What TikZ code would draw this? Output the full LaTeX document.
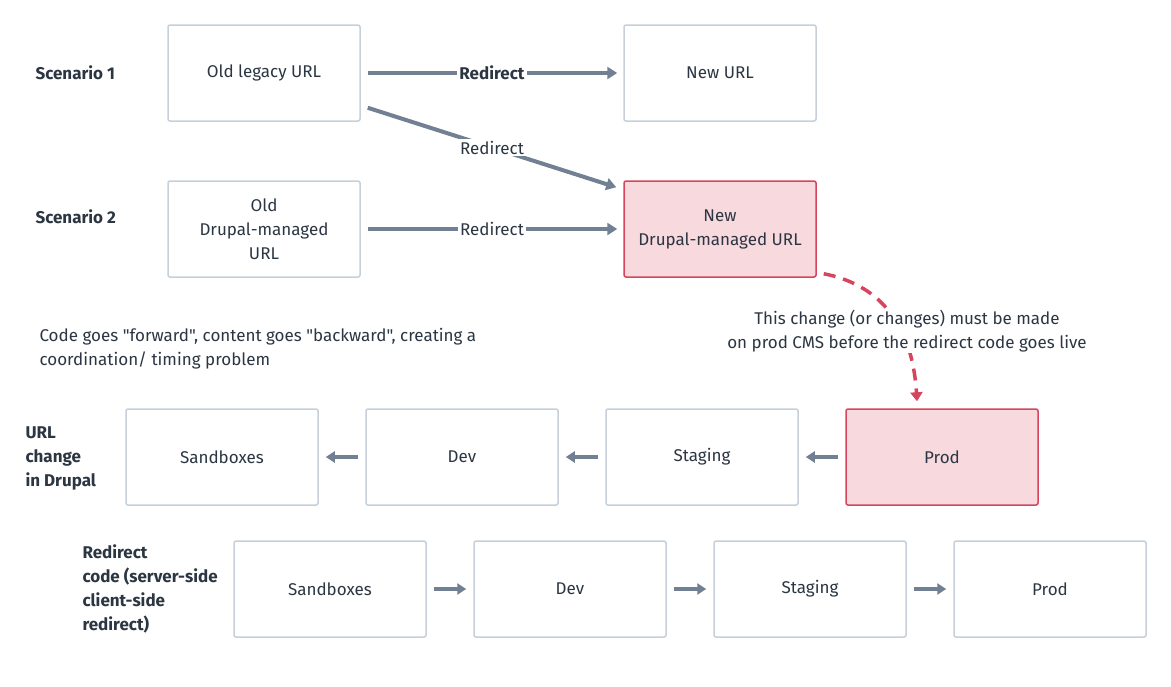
\documentclass[tikz,border=0pt]{standalone}
\usepackage{fontspec}
\setmainfont{Fira Sans}[Ligatures=TeXOff]
\usetikzlibrary{arrows.meta,calc}
\definecolor{txt}{HTML}{2B3642}
\definecolor{boxline}{HTML}{C5D0DA}
\definecolor{arrowc}{HTML}{718093}
\definecolor{hotline}{HTML}{D6455D}
\definecolor{hotfill}{HTML}{F7D9DE}
\begin{document}
\begin{tikzpicture}[x=1pt,y=-1pt,
  every node/.style={text=txt, font=\fontsize{17}{24}\selectfont},
  box/.style={draw=boxline, line width=1.5pt, rounded corners=2pt, fill=white,
    minimum width=192pt, minimum height=96pt, inner sep=0pt, align=center},
  hot/.style={box, draw=hotline, fill=hotfill},
  conn/.style={draw=arrowc, line width=4pt, -{Triangle[length=10pt,width=12pt]}},
  small/.style={draw=arrowc, line width=4pt, -{Triangle[length=9pt,width=11pt]}, shorten <=7pt, shorten >=7pt},
  lab/.style={fill=white, inner sep=2pt},
  side/.style={font=\fontsize{17}{24}\selectfont\bfseries, align=left, anchor=west},
  dashline/.style={draw=hotline, line width=3.5pt, dash pattern=on 12pt off 8pt, -{Triangle[length=9pt,width=12pt]}}
]
\useasboundingbox[fill=white] (0,0) rectangle (1171,686);

% side labels
\node[side] (s1) at (32,73) {Scenario 1};
\node[side] (s2) at (32,217) {Scenario 2};
\node[side] (s3) at (22,458) {URL\\change\\in Drupal};
\node[side] (s4) at (79,589) {Redirect\\code (server-side\\client-side\\redirect)};

% scenario boxes
\node[box] (old) at (264,73) {Old legacy URL};
\node[box] (newurl) at (720,73) {New URL};
\node[box] (old2) at (264,229) {Old\\Drupal-managed\\URL};
\node[hot] (new2) at (720,229) {New\\Drupal-managed URL};

% scenario connectors
\draw[conn, shorten <=7pt, shorten >=6pt] (old.east) -- node[lab, font=\fontsize{17}{24}\selectfont\bfseries] {Redirect} (newurl.west);
\coordinate (d1) at ($(old.south east)+(7,-14)$);
\coordinate (d2) at ($(new2.north west)+(-7,7)$);
\draw[conn] (d1) -- node[lab] {Redirect} (d2);
\draw[conn, shorten <=7pt, shorten >=6pt] (old2.east) -- node[lab] {Redirect} (new2.west);

% note
\node[anchor=west, align=left] (note) at (36,349) {Code goes "forward", content goes "backward", creating a\\coordination/ timing problem};

% row 3
\node[box] (sa) at (222,457) {Sandboxes};
\node[box] (de) at (462,457) {Dev};
\node[box] (st) at (702,457) {Staging};
\node[hot] (pr) at (942,457) {Prod};
\draw[small] (de.west) -- (sa.east);
\draw[small] (st.west) -- (de.east);
\draw[small] (pr.west) -- (st.east);

% row 4
\node[box] (sb) at (330,589) {Sandboxes};
\node[box] (db) at (570,589) {Dev};
\node[box] (sg) at (810,589) {Staging};
\node[box] (pb) at (1050,589) {Prod};
\draw[small] (sb.east) -- (db.west);
\draw[small] (db.east) -- (sg.west);
\draw[small] (sg.east) -- (pb.west);

% dashed dependency
\coordinate (c1) at ($(new2.south east)+(7,-4)$);
\coordinate (c2) at ($(pr.north)+(-25,-7)$);
\draw[dashline] (c1) .. controls +(52,10) and +(-5,-81) .. (c2);
\node[lab, align=center, inner sep=1pt] (ann) at (907,331) {This change (or changes) must be made\\on prod CMS before the redirect code goes live};
\end{tikzpicture}
\end{document}
